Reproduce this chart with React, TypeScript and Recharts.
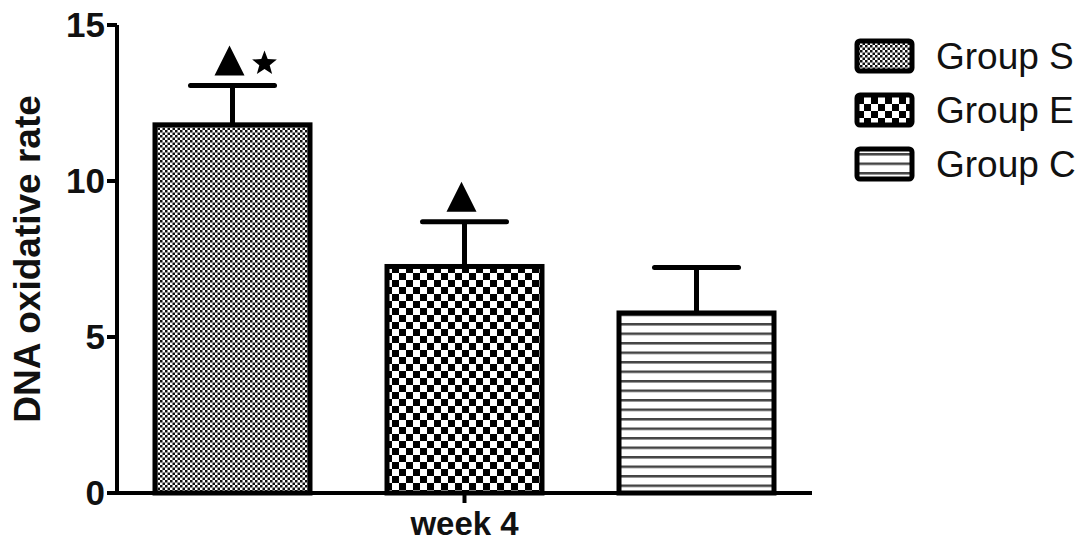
import React from 'react';
import { BarChart, Bar, XAxis, YAxis } from 'recharts';

const categories = ['week 4'];
const groups = ['Group S', 'Group E', 'Group C'];
const means = [11.8, 7.26, 5.77];
const sems = [1.26, 1.43, 1.46];
const marks = [['tri', 'star'], ['tri'], []];
const yTicks = [0, 5, 10, 15];

const patternIds = ['patS', 'patE', 'patC'];
const FONT = '"Liberation Sans", Arial, Helvetica, sans-serif';

const data = categories.map((c) => {
  const row: any = { name: c };
  groups.forEach((g, i) => {
    row[g] = means[i];
  });
  return row;
});

// patterns live in a hidden svg so both chart and legend can use them
const PatternDefs = () => (
  <svg width={0} height={0} style={{ position: 'absolute' }}>
    <defs>
      <pattern id="patS" patternUnits="userSpaceOnUse" width={5} height={5}>
        <rect width={5} height={5} fill="#fff" />
        <rect x={0} y={0} width={2.5} height={2.5} fill="#111" />
        <rect x={2.5} y={2.5} width={2.5} height={2.5} fill="#111" />
      </pattern>
      <pattern id="patE" patternUnits="userSpaceOnUse" width={14} height={14}>
        <rect width={14} height={14} fill="#fff" />
        <rect x={0} y={0} width={7} height={7} fill="#000" />
        <rect x={7} y={7} width={7} height={7} fill="#000" />
      </pattern>
      <pattern id="patC" patternUnits="userSpaceOnUse" width={9.5} height={9.5}>
        <rect width={9.5} height={9.5} fill="#fff" />
        <rect x={0} y={0} width={9.5} height={2.5} fill="#444" />
      </pattern>
    </defs>
  </svg>
);

const Triangle = ({ cx, base }: any) => (
  <polygon points={`${cx - 15},${base} ${cx + 15},${base} ${cx},${base - 30}`} fill="#000" />
);

const Star = ({ cx, cy, r }: any) => {
  const pts: string[] = [];
  for (let i = 0; i < 10; i++) {
    const rad = i % 2 === 0 ? r : r * 0.42;
    const a = -Math.PI / 2 + (i * Math.PI) / 5;
    pts.push(`${cx + rad * Math.cos(a)},${cy + rad * Math.sin(a)}`);
  }
  return <polygon points={pts.join(' ')} fill="#000" />;
};

const makeShape = (i: number) => (props: any) => {
  const { x, y, width, height, value } = props;
  const v = Array.isArray(value) ? value[1] : value;
  const pxPerUnit = height / v;
  const errTop = y - sems[i] * pxPerUnit;
  const cx = x + width / 2;
  const capW = 84;
  return (
    <g>
      <line x1={cx} x2={cx} y1={y} y2={errTop} stroke="#000" strokeWidth={5} />
      <line x1={cx - capW / 2} x2={cx + capW / 2} y1={errTop} y2={errTop} stroke="#000" strokeWidth={5} strokeLinecap="round" />
      <rect x={x} y={y} width={width} height={height} fill={`url(#${patternIds[i]})`} stroke="#000" strokeWidth={5} />
      {marks[i].map((m, k) =>
        m === 'tri' ? (
          <Triangle key={k} cx={cx - 3} base={errTop - 10} />
        ) : (
          <Star key={k} cx={cx + 32} cy={errTop - 22} r={13} />
        )
      )}
    </g>
  );
};

const YLabel = ({ viewBox }: any) => {
  const cx = 27;
  const cy = viewBox.y + viewBox.height / 2;
  return (
    <text
      x={cx}
      y={cy}
      transform={`rotate(-90, ${cx}, ${cy})`}
      textAnchor="middle"
      dominantBaseline="central"
      fontFamily={FONT}
      fontWeight="bold"
      fontSize={37}
      fill="#111"
    >
      DNA oxidative rate
    </text>
  );
};

const LegendBox = () => (
  <svg width={237} height={200} style={{ position: 'absolute', left: 850, top: 20 }}>
    {groups.map((g, i) => {
      const top = 20 + i * 54;
      return (
        <g key={g}>
          <rect x={7} y={top + 1} width={55} height={30} rx={3} fill={`url(#${patternIds[i]})`} stroke="#000" strokeWidth={5} />
          <text x={86} y={top + 29} fontFamily={FONT} fontSize={37} fill="#111">
            {g}
          </text>
        </g>
      );
    })}
  </svg>
);

export default function App() {
  return (
    <div style={{ position: 'absolute', left: 0, top: 0, width: 1087, height: 552, background: '#fff' }}>
      <PatternDefs />
      <BarChart
        width={1087}
        height={552}
        data={data}
        margin={{ top: 25, right: 275, left: 0, bottom: 0 }}
        barSize={155}
        barGap={77}
      >
        <XAxis
          dataKey="name"
          height={59}
          axisLine={{ stroke: '#000', strokeWidth: 4 }}
          tickLine={{ stroke: '#000', strokeWidth: 4 }}
          tickSize={10}
          tickMargin={9}
          tick={{ fontFamily: FONT, fontWeight: 'bold', fontSize: 33, fill: '#111' }}
        />
        <YAxis
          width={117}
          domain={[0, 15]}
          ticks={yTicks}
          axisLine={{ stroke: '#000', strokeWidth: 4 }}
          tickLine={{ stroke: '#000', strokeWidth: 4 }}
          tickSize={10}
          tickMargin={2}
          tick={{ fontFamily: FONT, fontWeight: 'bold', fontSize: 35, fill: '#111' }}
          label={<YLabel />}
        />
        {groups.map((g, i) => (
          <Bar key={g} dataKey={g} isAnimationActive={false} shape={makeShape(i)} />
        ))}
      </BarChart>
      <LegendBox />
    </div>
  );
}
